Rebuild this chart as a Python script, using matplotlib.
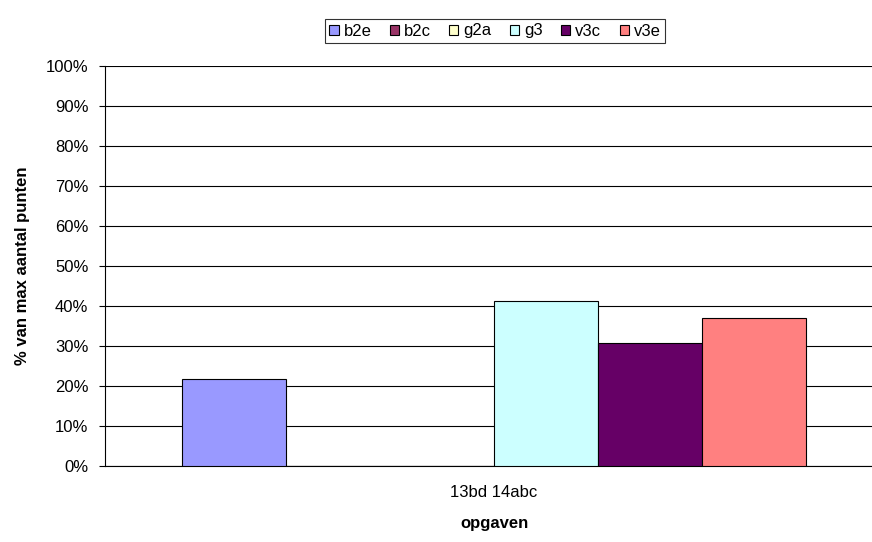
import matplotlib
matplotlib.use("Agg")
import matplotlib.pyplot as plt
from matplotlib.ticker import PercentFormatter

plt.rcParams['font.family'] = ['Liberation Sans', 'DejaVu Sans']

categories = ["13bd 14abc"]
series = ["b2e", "b2c", "g2a", "g3", "v3c", "v3e"]
values = [21.7, 0.0, 0.0, 41.2, 30.8, 37.1]
colors = ["#9999FF", "#993366", "#FFFFCC", "#CCFFFF", "#660066", "#FF8080"]
yticks = list(range(0, 101, 10))

W, H = 872, 542
fig = plt.figure(figsize=(W / 100, H / 100), dpi=100)
# plot area runs past the right edge of the figure
left, right, top, bottom = 105, 883, 66, 466
ax = fig.add_axes([left / W, 1 - bottom / H, (right - left) / W, (bottom - top) / H])

n = len(series)
bw = 1.0 / n
for i, (name, v, c) in enumerate(zip(series, values, colors)):
    ax.bar(0 + (i - (n - 1) / 2) * bw, v, width=bw, color=c, edgecolor="black",
           linewidth=0.8, label=name, zorder=3)

half = (right - left) / 624 / 2
ax.set_xlim(-half, half)
ax.set_ylim(0, 100)
ax.set_yticks(yticks)
ax.yaxis.set_major_formatter(PercentFormatter(decimals=0))
ax.set_xticks([0])
ax.set_xticklabels(categories)
ax.tick_params(axis="x", length=0, pad=14, labelsize=12)
ax.tick_params(axis="y", length=4, direction="out", labelsize=12, pad=8, width=0.8)
ax.grid(axis="y", color="black", linewidth=0.8, zorder=0)
for s in ["top", "right"]:
    ax.spines[s].set_visible(False)
ax.spines["left"].set_linewidth(0.8)
ax.spines["bottom"].set_linewidth(0.8)

ax.set_ylabel("% van max aantal punten", fontsize=12, fontweight="bold", labelpad=11)
ax.set_xlabel("opgaven", fontsize=12, fontweight="bold", labelpad=11)

leg = fig.legend(loc="center", bbox_to_anchor=(495 / W, 1 - 31 / H), ncol=6,
                 frameon=True, fancybox=False, edgecolor="black", fontsize=12,
                 handlelength=0.55, handleheight=0.55, handletextpad=0.3,
                 columnspacing=1.1, borderpad=0.25, borderaxespad=0)
leg.get_frame().set_linewidth(0.8)

fig.savefig("out.png", dpi=100)
